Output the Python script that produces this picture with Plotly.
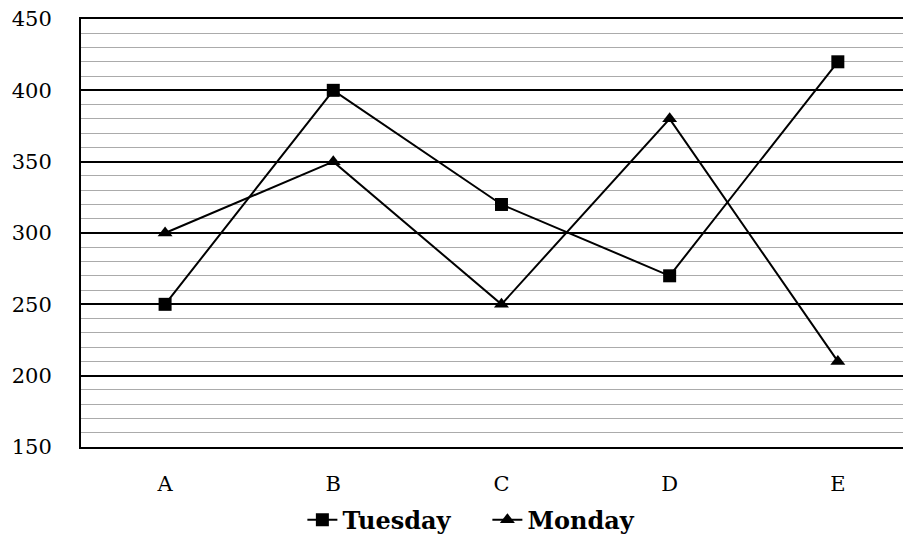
import plotly.graph_objects as go

categories = ["A", "B", "C", "D", "E"]
tuesday = [250, 400, 320, 270, 420]
monday = [300, 350, 250, 380, 210]

font_family = "DejaVu Serif"

fig = go.Figure()
fig.add_trace(go.Scatter(
    x=categories, y=tuesday, name="Tuesday", mode="lines+markers",
    line=dict(color="black", width=2),
    marker=dict(symbol="square", size=13, color="black"),
))
fig.add_trace(go.Scatter(
    x=categories, y=monday, name="Monday", mode="lines+markers",
    line=dict(color="black", width=2),
    marker=dict(symbol="triangle-up", size=13, color="black"),
))

fig.update_layout(
    width=903, height=534,
    margin=dict(l=73, r=0, t=11, b=95, autoexpand=False),
    paper_bgcolor="white", plot_bgcolor="white",
    font=dict(family=font_family, size=21, color="black"),
    showlegend=True,
    legend=dict(
        orientation="h", xref="container", yref="container",
        x=0.326, y=0.041, xanchor="left", yanchor="middle",
        font=dict(family=font_family, size=24, color="black", weight="bold"),
        entrywidth=140, entrywidthmode="pixels", tracegroupgap=0,
    ),
    xaxis=dict(
        type="category", range=[-0.5, 4.435], automargin=False,
        showline=True, linecolor="black", linewidth=2, mirror=True,
        showgrid=False, ticks="", ticklabelstandoff=17,
        tickfont=dict(family=font_family, size=21),
        ticklabeloverflow="allow",
    ),
    yaxis=dict(
        range=[150, 450], dtick=50, tick0=150, automargin=False,
        showline=True, linecolor="black", linewidth=2,
        showgrid=True, gridcolor="black", gridwidth=2,
        zeroline=False, ticks="", ticklabelstandoff=23,
        tickfont=dict(family=font_family, size=21),
        ticklabeloverflow="allow",
        minor=dict(dtick=10, tick0=150, showgrid=True, gridcolor="#ababab", gridwidth=1.3),
    ),
)

fig.write_html("out.html")
